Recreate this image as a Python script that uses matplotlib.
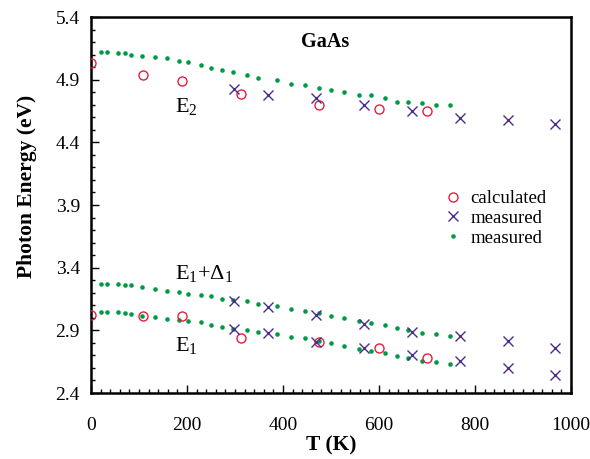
import matplotlib
matplotlib.use("Agg")
import matplotlib.pyplot as plt
from matplotlib.ticker import MultipleLocator

plt.rcParams['font.family'] = ['Liberation Serif', 'DejaVu Serif']
plt.rcParams['mathtext.fontset'] = 'custom'
plt.rcParams['mathtext.rm'] = 'Liberation Serif'
plt.rcParams['mathtext.it'] = 'Liberation Serif:italic'

# dense measured points (green dots), same temperatures for all three transitions
T_dots = [20, 33, 57, 71, 83, 106, 133, 159, 183, 203, 229, 250, 272, 295, 326,
          347, 388, 416, 446, 474, 499, 527, 558, 583, 612, 638, 661, 689, 719, 748]
E2_dots = [5.118, 5.118, 5.11, 5.11, 5.10, 5.089, 5.078, 5.07, 5.046, 5.038,
           5.014, 4.996, 4.98, 4.964, 4.94, 4.916, 4.897, 4.865, 4.857, 4.831,
           4.815, 4.799, 4.775, 4.775, 4.751, 4.724, 4.724, 4.716, 4.70, 4.70]
E1D1_dots = [3.267, 3.267, 3.267, 3.262, 3.262, 3.243, 3.232, 3.216, 3.206, 3.192,
             3.182, 3.174, 3.150, 3.14, 3.134, 3.110, 3.094, 3.068, 3.057, 3.038,
             3.017, 3.001, 2.977, 2.961, 2.943, 2.919, 2.903, 2.879, 2.869, 2.853]
E1_dots = [3.046, 3.046, 3.046, 3.036, 3.028, 3.017, 3.009, 2.993, 2.985, 2.974,
           2.964, 2.945, 2.929, 2.913, 2.900, 2.887, 2.871, 2.844, 2.839, 2.817,
           2.796, 2.777, 2.753, 2.737, 2.719, 2.695, 2.681, 2.655, 2.645, 2.629]

# calculated (red circles)
T_calc = [0, 108, 190, 312, 475, 600, 701]
E2_calc = [5.031, 4.937, 4.889, 4.788, 4.70, 4.666, 4.65]
E1_calc = [3.025, 3.017, 3.017, 2.836, 2.809, 2.757, 2.682]

# measured (crosses)
T_meas = [298, 369, 469, 568, 668, 769, 868, 967]
E2_meas = [4.823, 4.775, 4.751, 4.698, 4.65, 4.592, 4.576, 4.544]
E1D1_meas = [3.134, 3.084, 3.022, 2.95, 2.884, 2.852, 2.815, 2.761]
E1_meas = [2.913, 2.881, 2.809, 2.761, 2.706, 2.655, 2.599, 2.546]

y_ticks = [2.4, 2.9, 3.4, 3.9, 4.4, 4.9, 5.4]

red = '#e61e3c'
purple = '#4a2d8c'
green = '#009a44'

fig = plt.figure(figsize=(5.9, 4.59), dpi=100)
ax = fig.add_axes([91/590, 1-393/459, 480/590, 376/459])

ax.plot(T_calc, E2_calc, 'o', mfc='none', mec=red, ms=6.5, mew=1.0, label='calculated', zorder=3)
ax.plot(T_calc, E1_calc, 'o', mfc='none', mec=red, ms=6.5, mew=1.0, zorder=3)

ax.plot(T_meas, E2_meas, 'x', color=purple, ms=6.5, mew=1.0, label='measured', zorder=4)
ax.plot(T_meas, E1D1_meas, 'x', color=purple, ms=6.5, mew=1.0, zorder=4)
ax.plot(T_meas, E1_meas, 'x', color=purple, ms=6.5, mew=1.0, zorder=4)

ax.plot(T_dots, E2_dots, 'o', color=green, ms=3.3, mew=0, label='measured', zorder=2)
ax.plot(T_dots, E1D1_dots, 'o', color=green, ms=3.3, mew=0, zorder=2)
ax.plot(T_dots, E1_dots, 'o', color=green, ms=3.3, mew=0, zorder=2)

ax.set_xlim(0, 1000)
ax.set_ylim(2.4, 5.4)
ax.xaxis.set_major_locator(MultipleLocator(200))
ax.xaxis.set_minor_locator(MultipleLocator(20))
ax.set_yticks(y_ticks)
ax.set_yticklabels([f'{v:.1f}' for v in y_ticks])
ax.yaxis.set_minor_locator(MultipleLocator(0.1))
ax.tick_params(which='both', direction='in', labelsize=14, width=1.0)
ax.tick_params(which='major', length=6)
ax.tick_params(which='minor', length=3)
ax.tick_params(axis='x', pad=17)
ax.tick_params(axis='y', pad=8)
for s in ax.spines.values():
    s.set_linewidth(1.8)

ax.set_xlabel('T (K)', fontsize=15.5, fontweight='bold', labelpad=1)
ax.set_ylabel('Photon Energy (eV)', fontsize=15.5, fontweight='bold')
ax.yaxis.set_label_coords(-0.113, 0.549)

ax.text(487, 5.2, 'GaAs', fontsize=14.5, fontweight='bold', ha='center', va='center')

ax.text(175, 4.64, r'E$_\mathrm{2}$', fontsize=16, ha='left', va='baseline')
ax.text(175, 3.307, r'E$_\mathrm{1}$+$\Delta_\mathrm{1}$', fontsize=16, ha='left', va='baseline')
ax.text(175, 2.737, r'E$_\mathrm{1}$', fontsize=16, ha='left', va='baseline')

ax.legend(loc='upper left', bbox_to_anchor=(0.72, 0.56), frameon=False,
          fontsize=13.5, handlelength=1.0, handletextpad=0.4, labelspacing=0.14,
          borderaxespad=0)

fig.savefig('out.png', dpi=100)
